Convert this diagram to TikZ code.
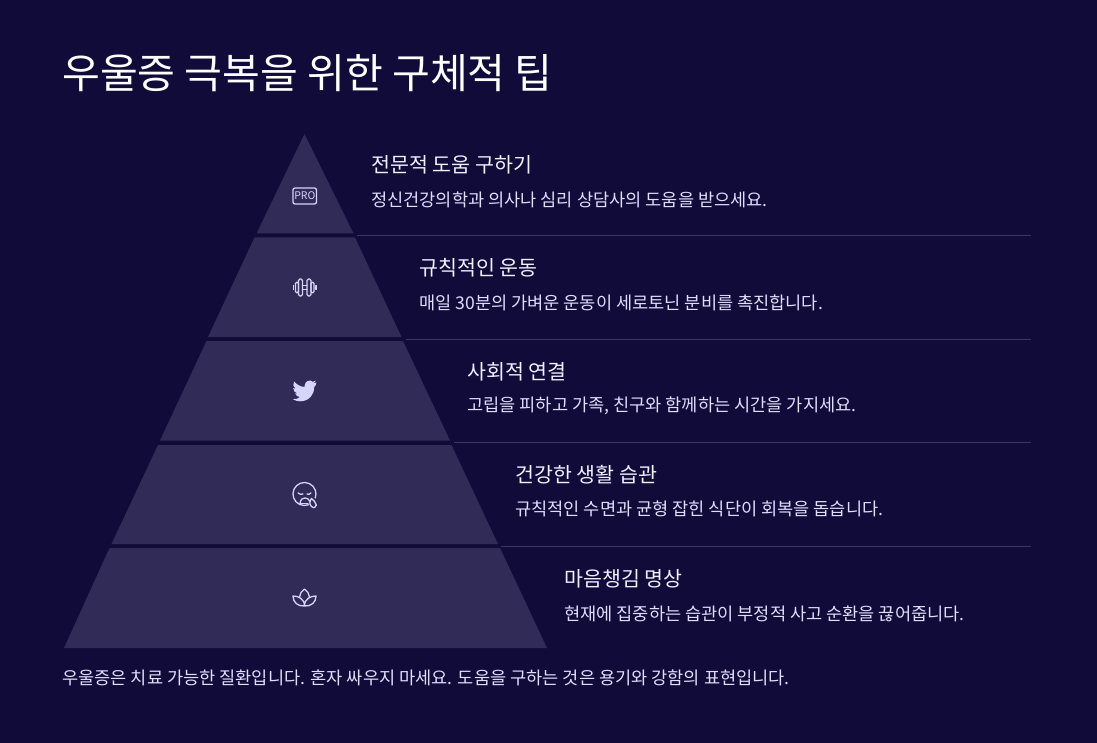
\documentclass[tikz,border=0pt]{standalone}
\usepackage{fontspec}
\setmainfont{Noto Sans CJK KR}
\definecolor{bgc}{HTML}{100B38}
\definecolor{layerc}{HTML}{312B57}
\definecolor{rulec}{HTML}{3C3762}
\definecolor{headc}{HTML}{F1EFFF}
\definecolor{descc}{HTML}{E0DEFF}
\definecolor{iconc}{HTML}{D6D4FA}
\tikzset{
  layer/.style={fill=layerc,draw=none},
  sep/.style={draw=rulec,line width=1pt},
  head/.style={anchor=west,inner sep=0pt,text=headc,font=\fontsize{20.6}{24}\selectfont},
  desc/.style={anchor=west,inner sep=0pt,text=descc,font=\fontsize{17.58}{21}\selectfont},
  ico/.style={draw=iconc,line width=1.3pt,fill=none,line join=round,line cap=round}
}
\begin{document}
\begin{tikzpicture}[x=1pt,y=-1pt]
\useasboundingbox (0,0) rectangle (1097,743);
\fill[bgc] (0,0) rectangle (1097,743);
\node[anchor=west,inner sep=0pt,text=white,font=\fontsize{41.1}{50}\selectfont] (title) at (62,73) {우울증 극복을 위한 구체적 팁};
% layers
\fill[layer] (304.5,134) -- (353.5,233.5) -- (256.5,233.5) -- cycle;
\fill[layer] (254.5,237.5) -- (355,237.5) -- (401.5,337) -- (208,337) -- cycle;
\fill[layer] (206.5,341) -- (403,341) -- (450,440.5) -- (160,440.5) -- cycle;
\fill[layer] (158,445) -- (451.5,445) -- (498,544) -- (111.5,544) -- cycle;
\fill[layer] (109.5,548) -- (500,548) -- (547,648) -- (64,648) -- cycle;
% separators
\coordinate (s1a) at (357,236); \coordinate (s1b) at (1031,236);
\coordinate (s2a) at (406,339.5); \coordinate (s2b) at (1031,339.5);
\coordinate (s3a) at (454,442.5); \coordinate (s3b) at (1031,442.5);
\coordinate (s4a) at (501,546.5); \coordinate (s4b) at (1031,546.5);
\draw[sep] (s1a) -- (s1b);
\draw[sep] (s2a) -- (s2b);
\draw[sep] (s3a) -- (s3b);
\draw[sep] (s4a) -- (s4b);
% texts
\node[head] (h1) at (371,165) {전문적 도움 구하기};
\node[desc] (d1) at (371,200) {정신건강의학과 의사나 심리 상담사의 도움을 받으세요.};
\node[head] (h2) at (419,268) {규칙적인 운동};
\node[desc] (d2) at (419,303) {매일 30분의 가벼운 운동이 세로토닌 분비를 촉진합니다.};
\node[head] (h3) at (467,372) {사회적 연결};
\node[desc] (d3) at (467,406) {고립을 피하고 가족, 친구와 함께하는 시간을 가지세요.};
\node[head] (h4) at (515,475) {건강한 생활 습관};
\node[desc] (d4) at (515,509) {규칙적인 수면과 균형 잡힌 식단이 회복을 돕습니다.};
\node[head] (h5) at (564,579) {마음챙김 명상};
\node[desc] (d5) at (564,614) {현재에 집중하는 습관이 부정적 사고 순환을 끊어줍니다.};
\node[desc] (foot) at (62,678) {우울증은 치료 가능한 질환입니다. 혼자 싸우지 마세요. 도움을 구하는 것은 용기와 강함의 표현입니다.};
% PRO icon
\draw[ico,rounded corners=2pt] (293,188) rectangle (316.5,204);
\node[inner sep=0pt,text=iconc,font=\fontsize{10.5}{10}\selectfont] (pro) at (304.8,196) {PRO};
% dumbbell
\draw[ico] (293.5,285.5) -- (293.5,289.5);
\draw[ico] (316,285.5) -- (316,289.5);
\draw[ico,rounded corners=1.5pt] (295.5,282) rectangle (298.5,293);
\draw[ico,rounded corners=1.5pt] (298.5,279) rectangle (302.5,296);
\draw[ico,rounded corners=1.5pt] (307,279) rectangle (311,296);
\draw[ico,rounded corners=1.5pt] (311,282) rectangle (314,293);
\draw[ico] (302.5,285.5) -- (307,285.5);
\draw[ico] (302.5,289.5) -- (307,289.5);
% bird
\fill[iconc] (316.5,382.5) .. controls (315.7,383) and (314.7,383.2) .. (313.8,383.3)
 .. controls (314.8,382.7) and (315.5,381.8) .. (315.9,380.6)
 .. controls (314.9,381.2) and (313.9,381.6) .. (312.8,381.8)
 .. controls (310.5,379.3) and (305,380.5) .. (304.6,385.5)
 .. controls (304.6,386) and (304.6,386.5) .. (304.8,387)
 .. controls (300.5,386.8) and (296.7,384.6) .. (294,381.5)
 .. controls (292.6,384) and (293.2,387) .. (295.5,388.7)
 .. controls (294.7,388.7) and (293.9,388.4) .. (293.2,388.1)
 .. controls (293.2,390.7) and (295,392.8) .. (297.5,393.4)
 .. controls (296.7,393.6) and (295.9,393.6) .. (295.2,393.5)
 .. controls (295.9,395.6) and (297.8,397) .. (300,397.1)
 .. controls (298,398.7) and (295.5,399.4) .. (292.7,399.1)
 .. controls (295,400.6) and (297.6,401.3) .. (300.3,401.3)
 .. controls (309.5,401.3) and (314.6,393.7) .. (314.3,386.8)
 .. controls (315.2,386.1) and (316,385.3) .. (316.5,382.5) -- cycle;
% sad face
\draw[ico] (308.4,504.8) arc[start angle=70,end angle=380,radius=11.5];
\draw[ico] (298,493) .. controls (299.5,494.5) and (301.5,494.5) .. (303,494);
\draw[ico] (311,493) .. controls (309.5,494.5) and (308.5,494.5) .. (307,494);
\draw[ico] (300,503.5) .. controls (300.5,499) and (303,498) .. (305,498) .. controls (307,498) and (309,499) .. (309.5,501);
\draw[ico] (300,503.5) -- (308,503.5);
\draw[ico] (311.5,498.5) .. controls (309.5,501.5) and (309,504) .. (311.5,506.5) .. controls (313.5,508.5) and (316.5,507.5) .. (316.3,505) .. controls (316,502.5) and (313.5,500) .. (311.5,498.5) -- cycle;
% lotus
\draw[ico] (304.5,606) .. controls (298,606.5) and (293,602.5) .. (293,596)
  .. controls (298,596) and (304.5,598.5) .. (304.5,606)
  .. controls (304.5,598.5) and (311,596) .. (316,596)
  .. controls (316,602.5) and (311,606.5) .. (304.5,606) -- cycle;
\draw[ico] (299.5,597) .. controls (299.5,593.5) and (302,591) .. (304.5,589)
  .. controls (307,591) and (309.5,593.5) .. (309.5,597);
\end{tikzpicture}
\end{document}
